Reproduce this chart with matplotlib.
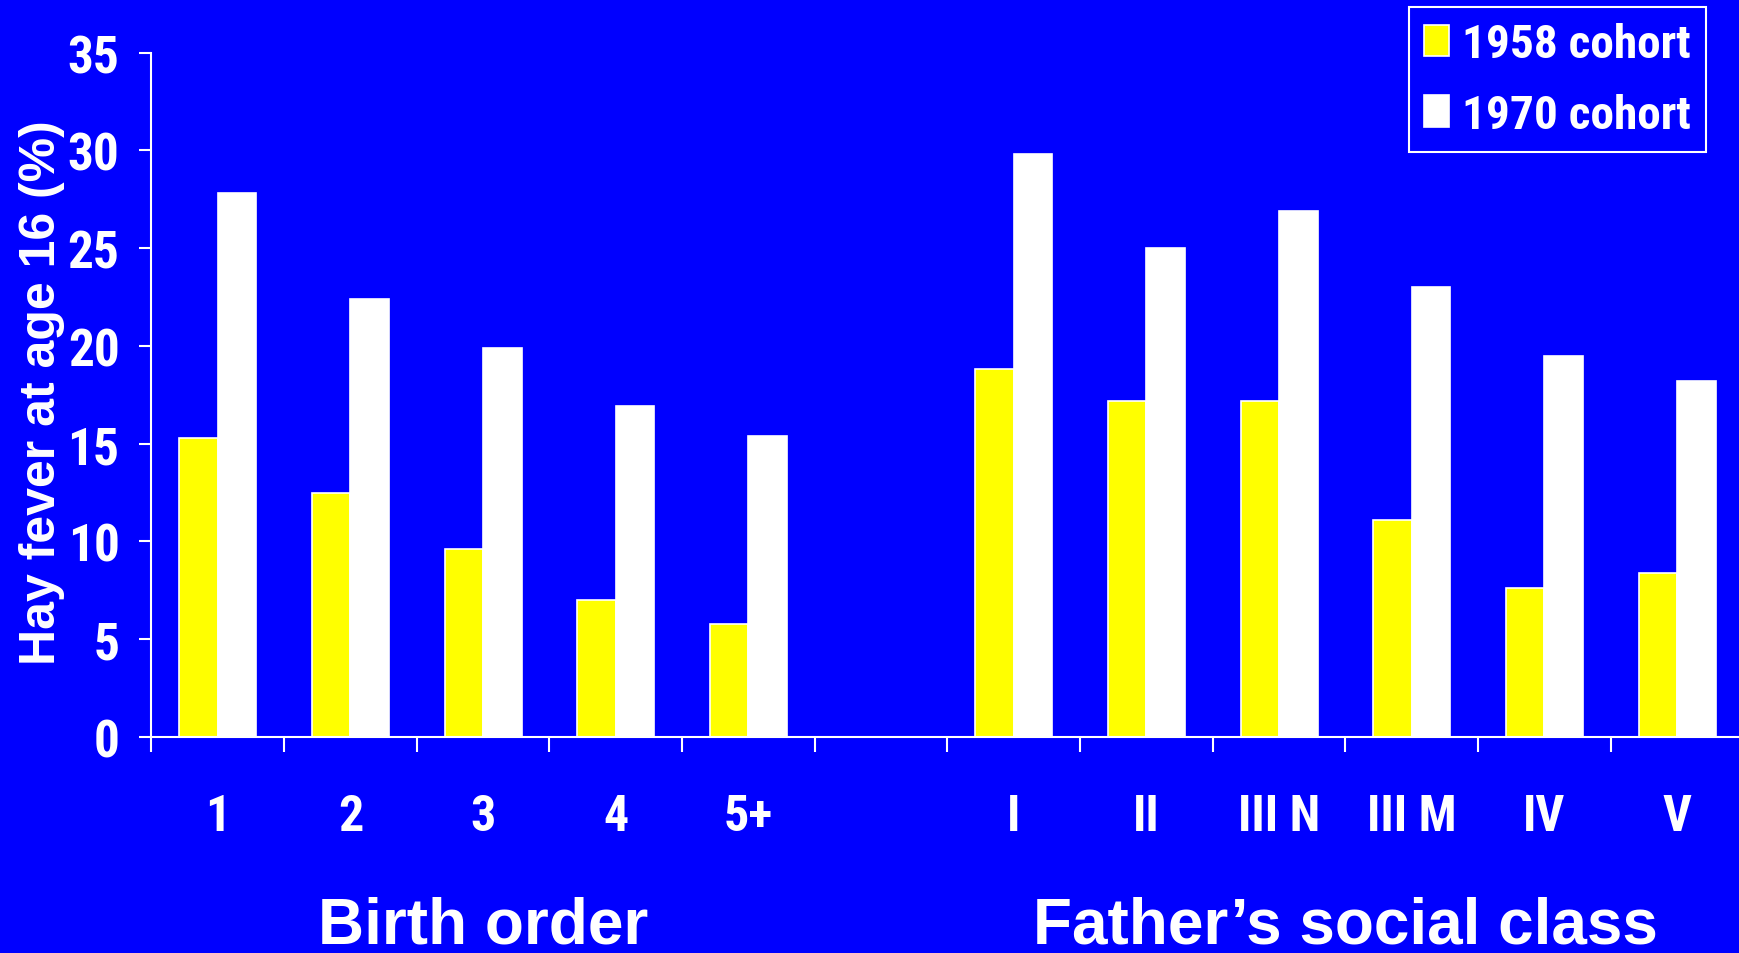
import matplotlib
matplotlib.use("Agg")
import matplotlib.pyplot as plt
import matplotlib.transforms as mtransforms
import numpy as np

# data
categories = ["1", "2", "3", "4", "5+", "", "I", "II", "III N", "III M", "IV", "V"]
cohort_1958 = [15.3, 12.5, 9.6, 7.0, 5.8, 0, 18.8, 17.2, 17.2, 11.1, 7.6, 8.4]
cohort_1970 = [27.8, 22.4, 19.9, 16.9, 15.4, 0, 29.8, 25.0, 26.9, 23.0, 19.5, 18.2]
series_names = ["1958 cohort", "1970 cohort"]
group_names = ["Birth order", "Father\u2019s social class"]
group_centers = [2, 8.5]

BLUE = "#0000FF"
YELLOW = "#FFFF00"
NARROW = ["Roboto Condensed", "Liberation Sans", "DejaVu Sans"]

plt.rcParams["font.family"] = ["Liberation Sans", "DejaVu Sans"]
plt.rcParams["font.weight"] = "bold"

fig = plt.figure(figsize=(17.4, 9.54), dpi=100, facecolor=BLUE)
W, H = 1740, 954
ax = fig.add_axes([151.5 / W, 1 - 738 / H, 1592 / W, (738 - 53.5) / H])
ax.set_facecolor(BLUE)

x = np.arange(len(categories))
bw = 0.29
# skip the empty spacer category
mask = np.array([c != "" for c in categories])
ax.bar(x[mask] - bw / 2, np.array(cohort_1958)[mask], bw, color=YELLOW,
       edgecolor="white", linewidth=1.2, label=series_names[0], zorder=2)
ax.bar(x[mask] + bw / 2, np.array(cohort_1970)[mask], bw, color="white",
       edgecolor="white", linewidth=1.2, label=series_names[1], zorder=2)

ax.set_xlim(-0.5, len(categories) - 0.5)
ax.set_ylim(0, 35)
ax.set_yticks(np.arange(0, 36, 5))
for lab in ax.get_yticklabels():
    lab.set_family(NARROW)

# major ticks at the category boundaries, labels on minor ticks at centres
ax.set_xticks(np.arange(-0.5, len(categories), 1))
ax.set_xticklabels([])
ax.set_xticks(x, minor=True)
ax.set_xticklabels(categories, minor=True, family=NARROW,
                   fontsize=36, fontweight="bold", color="white")
ax.tick_params(axis="x", which="minor", length=0, pad=40)
ax.tick_params(axis="x", which="major", length=11, width=1.5, color="white")
ax.tick_params(axis="y", length=9, width=1.5, color="white", pad=14,
               labelsize=37, labelcolor="white")

for s in ["top", "right"]:
    ax.spines[s].set_visible(False)
for s in ["left", "bottom"]:
    ax.spines[s].set_color("white")
    ax.spines[s].set_linewidth(1.5)
ax.spines["bottom"].set_zorder(3)

fig.text(42 / W, 1 - 393 / H, "Hay fever at age 16 (%)", rotation=90,
         ha="center", va="center", color="white", fontsize=36, fontweight="bold")

trans = mtransforms.blended_transform_factory(ax.transData, fig.transFigure)
for gx, name in zip(group_centers, group_names):
    ax.text(gx, 1 - 944 / H, name, transform=trans, ha="center", va="baseline",
            color="white", fontsize=46, fontweight="bold")

leg = fig.legend(loc="upper right", bbox_to_anchor=(1706 / W, 1 - 8 / H),
                 borderaxespad=0, fancybox=False, facecolor=BLUE, edgecolor="white",
                 framealpha=1, handlelength=0.53, handleheight=0.64,
                 handletextpad=0.28, labelspacing=0.56, borderpad=0.32,
                 prop={"family": NARROW, "weight": "bold", "size": 34})
leg.get_frame().set_linewidth(1.5)
for t in leg.get_texts():
    t.set_color("white")

fig.savefig("out.png", dpi=100, facecolor=BLUE)
